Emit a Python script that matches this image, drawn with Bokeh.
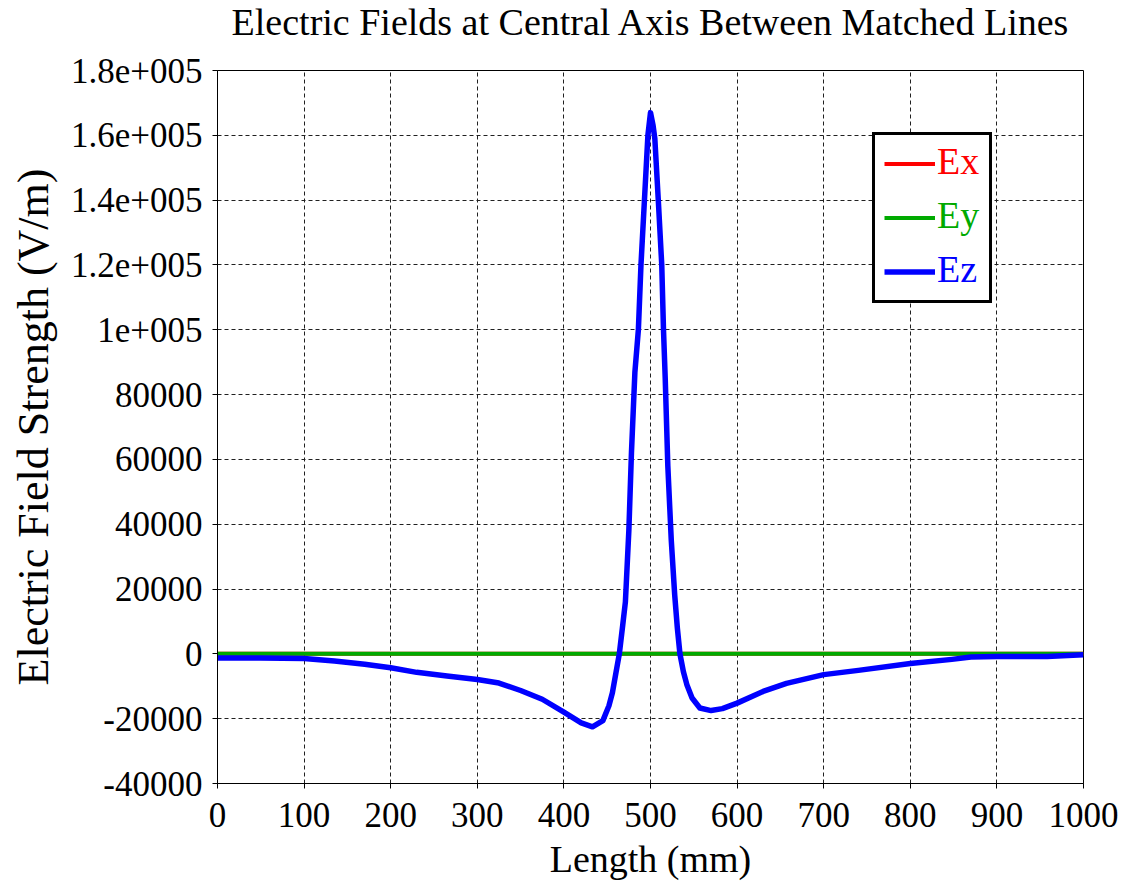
from bokeh.plotting import figure
from bokeh.layouts import column
from bokeh.models import Range1d, FixedTicker, Legend, LegendItem, Div
from bokeh.embed import file_html
from bokeh.resources import INLINE

# Position along the line (mm)
length_mm = [0, 50, 100, 135, 170, 200, 230, 265, 300, 325, 350, 375, 400, 420,
             433, 445, 452, 456, 460, 464, 468, 471, 475, 478, 482, 486, 489,
             493, 497, 500, 503, 505, 509, 513, 515, 517, 520, 524, 528, 531,
             534, 538, 542, 548, 557, 570, 583, 600, 630, 657, 700, 740, 800,
             848, 870, 900, 958, 1000]

# Field components (V/m)
ez = [-1300, -1300, -1400, -2200, -3200, -4300, -5700, -6800, -7900, -9000,
      -11300, -14000, -18000, -21300, -22500, -20600, -16000, -12000, -6000, 0,
      9000, 16000, 38000, 62000, 87000, 100000, 120000, 140000, 160000, 167000,
      163000, 159000, 140000, 120000, 100000, 85000, 58000, 35000, 18000, 8000,
      0, -5500, -9500, -13600, -16700, -17500, -16900, -15200, -11600, -9100,
      -6400, -5100, -3000, -1700, -1000, -800, -800, -300]
ex = [0] * len(length_mm)
ey = [0] * len(length_mm)

series_names = ["Ex", "Ey", "Ez"]
series_colors = ["#FF0000", "#00AA00", "#0000FF"]

x_ticks = [0, 100, 200, 300, 400, 500, 600, 700, 800, 900, 1000]
y_ticks = [-40000, -20000, 0, 20000, 40000, 60000, 80000, 100000, 120000,
           140000, 160000, 180000]
y_tick_labels = ["-40000", "-20000", "0", "20000", "40000", "60000", "80000",
                 "1e+005", "1.2e+005", "1.4e+005", "1.6e+005", "1.8e+005"]

chart_title = "Electric Fields at Central Axis Between Matched Lines"

SERIF = "Liberation Serif"
HEADER_H = 50

header = Div(text=chart_title, width=1125, height=HEADER_H, margin=0,
             styles={"font-family": SERIF, "font-size": "38px",
                     "color": "black", "text-align": "center",
                     "line-height": "normal", "white-space": "nowrap",
                     "padding-left": "175px", "box-sizing": "border-box",
                     "width": "1125px"})

p = figure(width=1125, height=892 - HEADER_H, output_backend="svg",
           toolbar_location=None, margin=0,
           x_range=Range1d(0, 1000), y_range=Range1d(-40000, 180000),
           min_border_left=217, min_border_right=42,
           min_border_top=70 - HEADER_H, min_border_bottom=109)
p.title.standoff = 0

p.outline_line_color = "black"
p.outline_line_width = 1
p.outline_line_alpha = 1
p.background_fill_color = "white"
p.border_fill_color = "white"

for ax in (p.xaxis[0], p.yaxis[0]):
    ax.axis_line_color = "black"
    ax.major_tick_line_color = "black"
    ax.major_tick_in = 0
    ax.major_tick_out = 5
    ax.minor_tick_line_color = None
    ax.major_label_text_font = SERIF
    ax.major_label_text_font_size = "35px"
    ax.major_label_text_color = "black"
    ax.axis_label_text_font = SERIF
    ax.axis_label_text_font_style = "normal"
    ax.axis_label_text_color = "black"

p.xaxis.ticker = FixedTicker(ticks=x_ticks)
p.yaxis.ticker = FixedTicker(ticks=y_ticks)
p.yaxis.major_label_overrides = {t: s for t, s in zip(y_ticks, y_tick_labels)}
p.xaxis.axis_label = "Length (mm)"
p.yaxis.axis_label = "Electric Field Strength (V/m)"
p.xaxis.axis_label_text_font_size = "38px"
p.yaxis.axis_label_text_font_size = "44px"
p.xaxis.major_label_standoff = 14
p.yaxis.major_label_standoff = 10
p.xaxis.axis_label_standoff = 8
p.yaxis.axis_label_standoff = 10

for g in (p.xgrid[0], p.ygrid[0]):
    g.grid_line_color = "#202020"
    g.grid_line_dash = "4 3"
    g.grid_line_width = 1

r_ex = p.line(length_mm, ex, line_color=series_colors[0], line_width=4)
r_ey = p.line(length_mm, ey, line_color=series_colors[1], line_width=4)
r_ez = p.line(length_mm, ez, line_color=series_colors[2], line_width=5.5,
              line_join="round")
renderers = [r_ex, r_ey, r_ez]

# legend frame with the line samples
frame_legend = Legend(items=[LegendItem(label=" ", renderers=[r])
                             for r in renderers],
                      location=(655, 480), orientation="vertical",
                      border_line_color="black", border_line_width=3,
                      border_line_alpha=1,
                      background_fill_color="white", background_fill_alpha=1,
                      padding=9, spacing=15, margin=0,
                      glyph_width=51, glyph_height=39, label_width=39,
                      label_height=39, label_standoff=6,
                      label_text_font_size="10px")
p.add_layout(frame_legend, "center")

# one caption per series, each in its own colour
row_bottoms = [600, 546, 492]
for name, col, r, yb in zip(series_names, series_colors, renderers, row_bottoms):
    cap = Legend(items=[LegendItem(label=name, renderers=[r])],
                 location=(720, yb), orientation="vertical",
                 border_line_color=None, background_fill_alpha=0,
                 padding=0, spacing=0, margin=0,
                 glyph_width=0, glyph_height=39, label_height=39,
                 label_standoff=0, label_text_color=col,
                 label_text_font=SERIF, label_text_font_size="38px",
                 label_text_baseline="middle")
    p.add_layout(cap, "center")

page = column(header, p, spacing=0, margin=0)
open("out.html", "w").write(file_html(page, INLINE))
